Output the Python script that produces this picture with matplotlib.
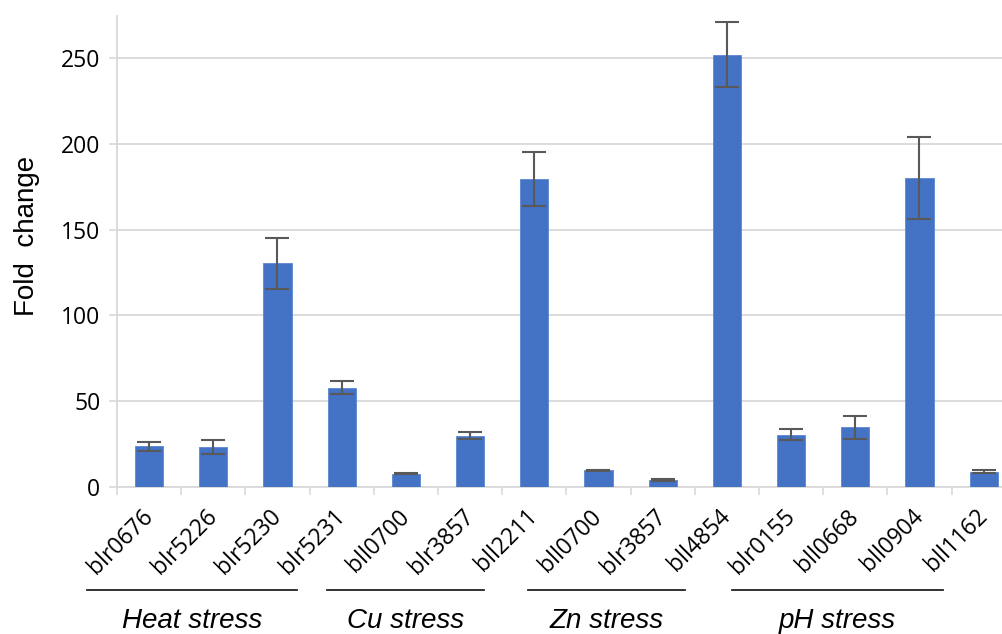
import matplotlib
matplotlib.use("Agg")
import matplotlib.pyplot as plt
import matplotlib.transforms as mtransforms

# datos
genes = ["blr0676", "blr5226", "blr5230", "blr5231", "bll0700", "blr3857",
         "bll2211", "bll0700", "blr3857", "bll4854", "blr0155", "bll0668",
         "bll0904", "bll1162"]
fold = [23.6, 23.3, 130.3, 57.8, 7.6, 29.8, 179.5, 9.6, 3.9, 252, 30.3, 34.6, 180, 8.8]
err = [2.6, 4.2, 14.8, 4.0, 0.4, 2.0, 15.6, 0.4, 0.7, 19, 3.3, 6.8, 24, 1.0]

grupos = ["Heat stress", "Cu stress", "Zn stress", "pH stress"]
# extension de la linea de cada grupo (en unidades de categoria)
tramos = [(-0.97, 2.31), (2.77, 5.22), (5.90, 8.35), (9.08, 12.37)]

fig = plt.figure(figsize=(10.03, 6.34), dpi=100)
ax = fig.add_axes([117 / 1003, 147.3 / 634, 898.8 / 1003, 470.7 / 634])

x = list(range(len(genes)))
ax.bar(x, fold, width=0.44, color="#4472C4", edgecolor="#5B86D0", linewidth=0.6, zorder=3)
ax.errorbar(x, fold, yerr=err, fmt="none", ecolor="#595959", elinewidth=1.5,
            capsize=8.5, capthick=1.5, zorder=4)

ax.set_xlim(-0.5, 13.5)
ax.set_ylim(0, 274.6)
ax.set_yticks([0, 50, 100, 150, 200, 250])
ax.yaxis.grid(True, color="#D9D9D9", linewidth=1.3, zorder=0)
ax.set_axisbelow(True)

# marcas en los limites de las categorias, etiquetas en el centro
ax.set_xticks([i - 0.5 for i in range(len(genes) + 1)])
ax.set_xticklabels([])
ax.set_xticks(x, minor=True)
ax.set_xticklabels(genes, minor=True, rotation=45, ha="right", va="center",
                   rotation_mode="anchor", fontsize=16.5, family="Open Sans")
ax.tick_params(axis="x", which="minor", length=0, pad=19)
ax.tick_params(axis="x", which="major", length=6, width=1.2, color="#D9D9D9")
ax.tick_params(axis="y", length=6, width=1.2, color="#D9D9D9", labelsize=16.5, pad=6)
for t in ax.get_yticklabels():
    t.set_family("Open Sans")

for s in ["top", "right"]:
    ax.spines[s].set_visible(False)
ax.spines["left"].set_color("#D9D9D9")
ax.spines["left"].set_linewidth(1.3)
ax.spines["bottom"].set_color("#D9D9D9")
ax.spines["bottom"].set_linewidth(1.3)

ax.set_ylabel("Fold  change", fontsize=20, family="Liberation Sans")
ax.yaxis.set_label_coords(-0.0855, 0.533)

trans = mtransforms.blended_transform_factory(ax.transData, ax.transAxes)
for nombre, (a, b) in zip(grupos, tramos):
    ax.plot([a, b], [-0.2195, -0.2195], transform=trans, color="#222222",
            linewidth=1.3, clip_on=False)
    ax.text((a + b) / 2, -0.300, nombre, transform=trans, ha="center", va="baseline",
            fontsize=20, style="italic", family="Liberation Sans")

fig.savefig("out.png", dpi=100)
